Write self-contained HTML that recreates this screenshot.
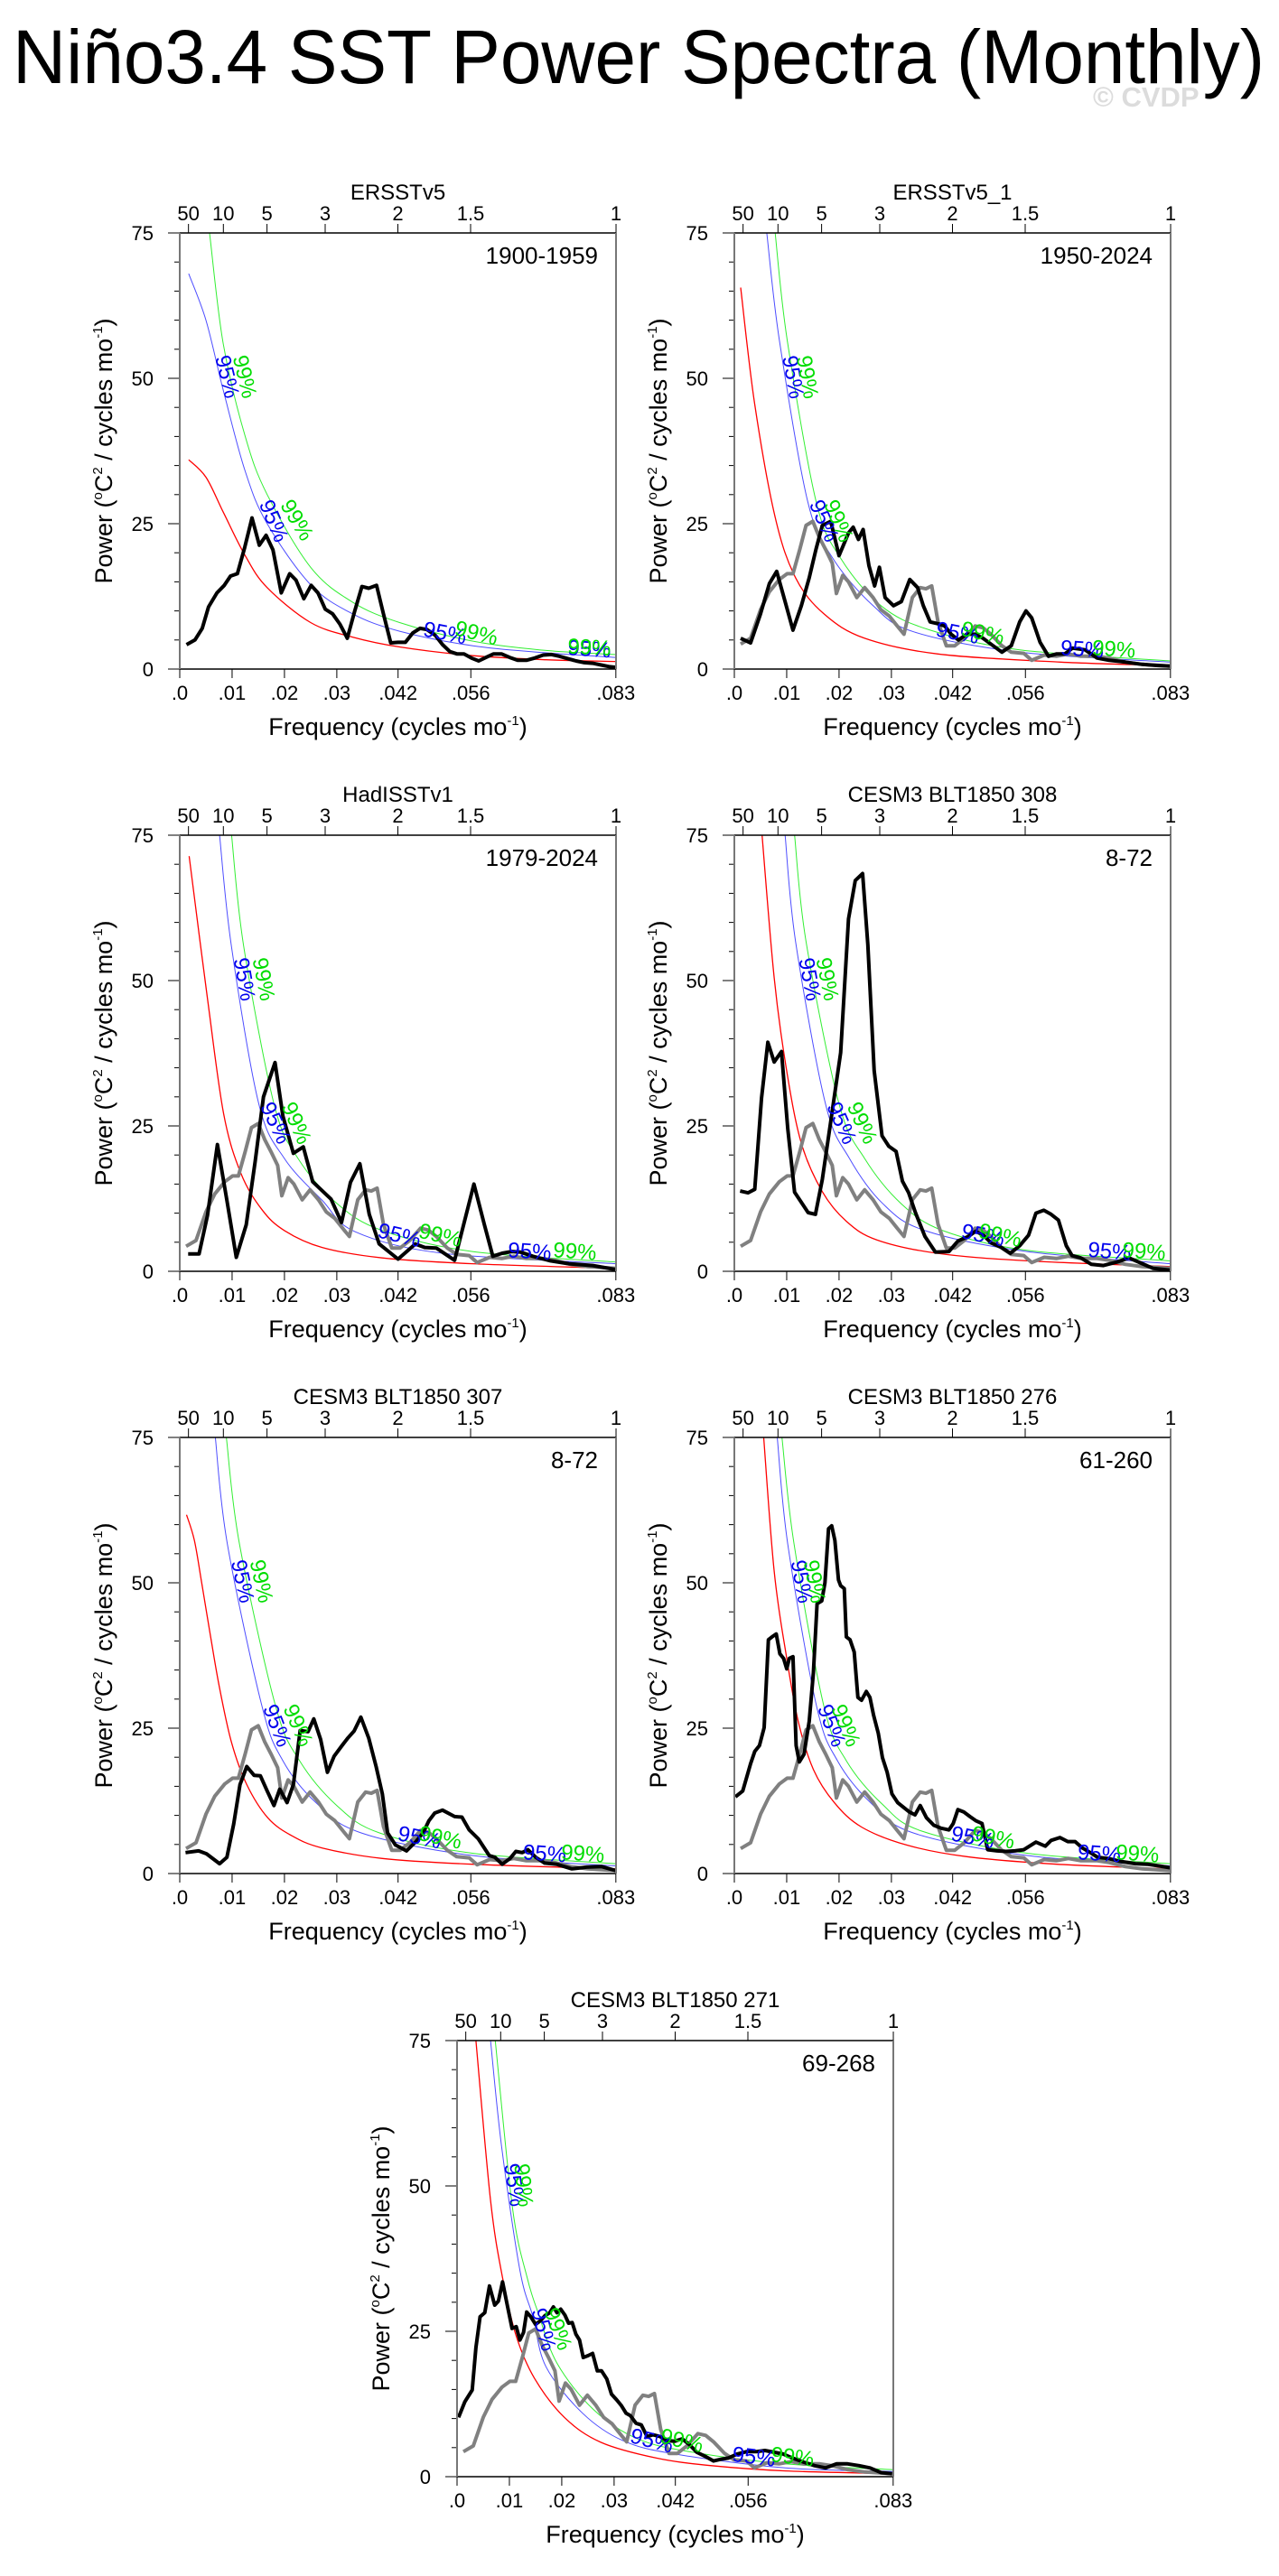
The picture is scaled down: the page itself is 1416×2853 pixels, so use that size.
<!DOCTYPE html>
<html><head><meta charset="utf-8"><style>
html,body{margin:0;padding:0;background:#fff;}
svg{display:block;font-family:"Liberation Sans",Arial,sans-serif;}
</style></head><body>
<svg id="fig" width="1416" height="2853" viewBox="0 0 1416 2853" xmlns="http://www.w3.org/2000/svg">
<text x="14" y="92" font-size="84" textLength="1386" lengthAdjust="spacingAndGlyphs">Niño3.4 SST Power Spectra (Monthly)</text>
<text x="1210" y="118" font-size="31" font-weight="bold" fill="#dcdcdc">© CVDP</text>
</svg>
<script>
// ---- shared axis data ----
const yTicks = [0, 25, 50, 75];
const xTickVals = [0, 0.01, 0.02, 0.03, 0.0417, 0.0556, 0.0833];
const xTickLabels = [".0", ".01", ".02", ".03", ".042", ".056", ".083"];
const periodTickYears = [50, 10, 5, 3, 2, 1.5, 1];
const periodTickLabels = ["50", "10", "5", "3", "2", "1.5", "1"];

// ---- reference (gray) spectrum shared by panels 2-7 ----
const grayF = [.0012,.0031,.005,.0067,.0086,.0101,.0112,.0125,.0137,.015,.0162,.0174,.0187,.0195,.0207,.0218,.0234,.0249,.0265,.028,.0296,.0311,.0324,.034,.0355,.0366,.0377,.0389,.0405,.0421,.0439,.046,.0475,.049,.0511,.0529,.0553,.0568,.0592,.0615,.0638,.0662,.0693,.0716,.0747,.0779,.0833];
const grayV = [4.3,5.3,10.2,13.3,15.4,16.4,16.4,20.6,24.7,25.4,22.7,20.6,18.2,13,16.1,15,12.3,14,12.3,10.2,9.1,7.4,6,12.3,14,13.8,14.3,8.1,4,4,5.3,7.4,7.1,6,4,2.9,2.7,1.5,2.4,2.2,2.6,2.2,2.2,1.9,1.2,0.8,0.5];

// ---- panel 1: ERSSTv5 1900-1959 ----
const p1F = [.0013,.0029,.0043,.0055,.0071,.0085,.0097,.011,.0124,.0138,.0152,.0165,.0178,.0194,.021,.0222,.0237,.0251,.0264,.0278,.0292,.0306,.032,.0334,.0348,.0361,.0376,.0389,.0403,.0417,.0431,.0445,.0459,.0472,.0488,.0502,.0516,.053,.0543,.0557,.0571,.0585,.0599,.0615,.063,.0646,.0662,.0678,.0694,.071,.0725,.0741,.0757,.0773,.0789,.0805,.0821,.0833];
const p1V = [4.2,5,7,10.7,13.1,14.4,16,16.4,20.9,26,21.3,23,20.5,13.1,16.4,15.3,12.1,14.4,13.1,10.3,9.5,7.7,5.3,9.9,14.2,13.9,14.4,9.5,4.5,4.6,4.6,6.2,7,6.8,5.8,4.2,3,2.6,2.6,1.9,1.4,2,2.6,2.6,2,1.5,1.5,1.9,2.4,2.5,2.2,1.8,1.4,1.1,1,0.7,0.4,0.3];
const p1RedF = [.0017,.005,.0083,.0125,.0167,.025,.033,.042,.056,.07,.0833];
const p1RedV = [36,33,27,19.5,14,8,5.5,3.8,2.3,1.6,1.3];
const p1BlueF = [.0017,.005,.0083,.0125,.0167,.025,.033,.042,.056,.07,.0833];
const p1BlueV = [68,60,48,34,25,14.5,9.5,6.5,4,2.8,2];
const p1GreenF = [.0057,.0083,.0125,.0167,.025,.033,.042,.056,.07,.0833];
const p1GreenV = [75,56,40,30,17.5,11.5,8,4.8,3.2,2.5];

// ---- panel 2: ERSSTv5_1 1950-2024 ----
const p2F = [.0012,.0031,.005,.0067,.0081,.0097,.0112,.0128,.0143,.0156,.0168,.0184,.02,.0218,.0227,.0237,.0246,.0257,.0268,.0277,.0288,.0304,.0319,.0335,.035,.0361,.0374,.0389,.0402,.0414,.0428,.0444,.046,.0475,.049,.0511,.0529,.0545,.0557,.0568,.0584,.06,.0615,.0631,.0646,.067,.0693,.0716,.0747,.0779,.081,.0833];
const p2V = [5.3,4.5,9.5,14.7,16.8,11.6,6.7,10.9,15.7,20.6,24.7,25.4,19.5,23.4,24.4,22.3,24,17.8,14.3,17.5,12.3,10.9,11.6,15.4,14,10.9,8.1,7.8,7.4,6,5,6,6,5.3,4.3,2.9,4,8.1,10,8.8,4.6,2.2,2.6,2.6,3.6,3.3,1.9,1.5,1.2,0.8,0.6,0.5];
const p2RedF = [.0012,.0039,.0078,.0117,.0171,.0249,.0389,.0623,.0833];
const p2RedV = [65.6,45.5,26.1,15.7,9.5,5.3,2.6,1.2,0.6];
const p2BlueF = [.0062,.0086,.014,.0187,.0265,.0343,.0545,.0833];
const p2BlueV = [75,56.6,28.9,19.2,10.9,6.4,2.9,1.2];
const p2GreenF = [.0078,.0101,.0156,.0202,.028,.0374,.0545,.0833];
const p2GreenV = [75,56.6,28.9,19.2,10.9,6.7,3.3,1.4];

// ---- panel 3: HadISSTv1 1979-2024 ----
const p3F = [.0016,.0037,.0053,.0072,.009,.0108,.0127,.0144,.016,.0182,.0197,.0217,.0236,.0254,.0289,.0309,.0326,.0344,.0362,.0381,.0417,.045,.0468,.049,.0525,.0562,.0582,.0598,.0616,.0634,.0651,.0674,.0708,.0743,.0789,.0833];
const p3V = [3,3,9.6,21.8,12.2,2.4,8,18.9,30,35.9,26.7,20.3,21.4,15.4,12.4,8.4,15.3,18.5,9.8,4.7,2.1,4.7,4.1,4,1.9,15,8,2.6,3.1,3.4,3.3,2.6,1.8,1.3,1,0.3];
const p3RedF = [.0018,.0053,.0084,.0117,.0157,.02,.0272,.0387,.0559,.0833];
const p3RedV = [71.4,46.9,27,16.8,10.6,7,4.1,2.3,1.3,0.5];
const p3BlueF = [.0076,.0099,.0151,.02,.0272,.0335,.0502,.0833];
const p3BlueV = [75,55.7,28.8,19.4,12.2,6.8,3.1,1.3];
const p3GreenF = [.0099,.0122,.018,.0226,.03,.0387,.0559,.0833];
const p3GreenV = [75,56,28.8,19.4,11.7,7,3.4,1.6];

// ---- panel 4: CESM3 BLT1850 308, 8-72 ----
const p4F = [.0011,.0026,.0039,.0052,.0064,.0076,.009,.0102,.0115,.0141,.0155,.0168,.0183,.0203,.0218,.0231,.0245,.0255,.0267,.0282,.0295,.0309,.0321,.0333,.0346,.0364,.0384,.041,.0427,.0447,.0461,.0476,.049,.051,.0527,.0545,.0562,.0576,.0591,.0605,.0619,.0634,.0645,.0662,.0682,.0705,.0731,.0754,.0777,.08,.0833];
const p4V = [13.8,13.5,14.1,29.8,39.4,36,37.8,24.6,13.6,10.1,9.8,15.8,25.1,37.6,60.6,67.2,68.4,56.2,34.5,23.3,21.5,20.6,15.5,13.5,10.1,6,3.3,3.4,5.2,6,6.9,6.2,4.9,4.1,3.1,4.4,6.2,10,10.5,9.8,8.8,4.4,2.7,2.3,1.2,1,1.6,2.3,1.4,0.5,0.2];
const p4RedF = [.0053,.0076,.0099,.0128,.0168,.0214,.0272,.0387,.0559,.0833];
const p4RedV = [75,50.5,35,22,13.7,8.6,5.4,3.1,1.8,0.8];
const p4BlueF = [.0097,.0117,.0174,.022,.0283,.0364,.0559,.0833];
const p4BlueV = [75,56.7,28.8,19.4,11.7,7,3.4,1.3];
const p4GreenF = [.0115,.0137,.02,.0249,.0318,.0398,.0559,.0833];
const p4GreenV = [75,56.7,28.8,19.4,11.7,7,3.6,1.8];

// ---- panel 5: CESM3 BLT1850 307, 8-72 ----
const p5F = [.0011,.0036,.0051,.0076,.009,.0103,.0115,.0128,.0142,.0154,.0167,.018,.0191,.0205,.0217,.023,.0245,.0256,.0269,.0282,.0295,.0309,.0321,.0333,.0346,.0361,.0375,.0387,.0397,.0412,.0433,.045,.0465,.0476,.0487,.0502,.0525,.0539,.0553,.057,.0591,.0602,.0616,.0631,.0642,.0654,.0665,.068,.0697,.072,.0749,.0777,.0806,.0833];
const p5V = [3.6,3.9,3.4,1.7,2.8,8.5,15.3,18.4,16.9,16.8,14.2,11.7,14.5,12.2,15.3,24.6,24.4,26.6,23.1,17.4,20.2,21.9,23.3,24.5,26.9,23.3,18.4,13.7,7,4.9,3.9,5.4,7,9.1,10.4,10.9,9.8,9.7,7.5,6,3.1,2.8,1.6,2.6,3.8,3.6,4.1,2.8,1.8,1.6,0.8,1.1,1.2,0.5];
const p5RedF = [.0013,.0028,.0042,.0059,.0076,.0099,.0128,.0168,.0214,.0272,.0387,.0559,.0833];
const p5RedV = [61.7,57.3,50,40.7,31.9,22.5,15.3,9.6,6.5,4.4,2.6,1.6,0.8];
const p5BlueF = [.0068,.0091,.0157,.0197,.026,.0346,.0559,.0833];
const p5BlueV = [75,56.7,28.8,19.4,12.2,7,3.1,1.3];
const p5GreenF = [.0089,.0114,.0183,.0229,.03,.0381,.0559,.0833];
const p5GreenV = [75,56.7,28.8,19.4,11.7,7,3.5,1.7];

// ---- panel 6: CESM3 BLT1850 276, 61-260 ----
const p6F = [.0002,.0016,.0031,.0039,.0048,.0057,.0065,.0072,.008,.0087,.0094,.01,.0105,.0112,.0118,.0124,.0133,.0143,.0151,.0158,.0167,.0173,.018,.0186,.0192,.0199,.0203,.021,.0214,.0221,.0229,.0236,.0243,.0252,.0259,.0266,.0275,.0283,.0292,.0301,.0312,.0323,.0334,.0345,.0355,.0367,.0381,.0395,.041,.0418,.0427,.0438,.045,.0461,.0473,.0484,.0502,.0519,.0536,.0553,.0576,.0594,.0605,.0622,.0637,.0651,.0665,.068,.0694,.0714,.0737,.0766,.0789,.0812,.0833];
const p6V = [13.2,14.2,18.9,21,22,25.1,40.2,40.7,41.2,37.8,37,35.2,37,37.3,22,19.2,20.5,26.2,34.5,46.4,46.9,50,59.3,59.8,57.3,50.5,49.5,49,40.7,40.2,38.1,30.3,29.8,31.3,30.3,27.2,24.1,19.9,17.4,13.7,12.2,11.4,10.6,10.1,11.7,9.6,8.3,7.8,7.5,8.6,11,10.6,9.8,9.1,8.6,4.1,3.9,3.8,3.9,4.1,5.4,4.7,5.7,6.2,5.5,5.5,4.4,3.6,2.8,2.6,2.1,1.7,1.6,1.3,1];
const p6RedF = [.0056,.0076,.0099,.0122,.0151,.0191,.0243,.0329,.0444,.0616,.0833];
const p6RedV = [75,52,37.6,26.2,17.9,12.2,8,4.9,2.9,1.6,0.8];
const p6BlueF = [.0082,.0102,.0157,.0197,.026,.0341,.0559,.0833];
const p6BlueV = [75,56.7,28.8,19.4,12.2,7,3.1,1.3];
const p6GreenF = [.0091,.0114,.0171,.0214,.0283,.0358,.0559,.0833];
const p6GreenV = [75,56.7,28.8,19.4,11.9,7.3,3.5,1.7];

// ---- panel 7: CESM3 BLT1850 271, 69-268 ----
const p7F = [.0003,.0015,.0029,.0036,.0044,.0053,.0062,.0072,.0079,.0087,.0096,.0105,.0113,.012,.0127,.0133,.0141,.015,.0159,.0168,.0177,.0184,.0191,.0198,.0206,.0213,.022,.0227,.0234,.0241,.025,.0259,.0268,.0276,.0286,.0295,.0305,.0314,.0323,.0331,.0342,.0352,.0363,.0374,.0388,.0402,.0416,.043,.0444,.0458,.0476,.049,.0504,.0518,.0535,.0553,.0571,.0588,.0606,.0623,.0641,.0662,.0683,.0704,.0725,.0746,.0768,.0789,.081,.0831];
const p7V = [10.2,12.9,14.9,22.2,27.5,28.2,32.8,29.5,30.2,33.5,29.5,25.5,25.8,23.5,24.8,28.3,27.5,26.2,26.8,27.7,28.2,29.2,28.2,28.8,27.8,26.4,26.5,24.5,23.5,20.5,20.8,21.2,18.2,18.2,16.8,14.2,13.2,12.2,10.9,10.5,9.2,8.9,6.9,7.2,6.9,6.2,6.1,6.5,5.5,4.2,3.4,2.7,3,3.2,3.9,4.3,4.3,4.5,4.2,3.9,3.2,2.5,1.9,1.5,2.2,2.2,1.9,1.5,0.7,0.5];
const p7RedF = [.0036,.0064,.0087,.0113,.0148,.0205,.0275,.0381,.0486,.0627,.0833];
const p7RedV = [75,47.5,34.2,24.2,16.9,10.2,5.9,3.2,1.9,1,0.5];
const p7BlueF = [.0064,.0085,.012,.0145,.017,.024,.0317,.0416,.0627,.0833];
const p7BlueV = [75,56.8,35.5,27.5,18.9,10.9,6.2,3.9,1.5,0.9];
const p7GreenF = [.0073,.0106,.0134,.0155,.0191,.0261,.0345,.0451,.0627,.0833];
const p7GreenV = [75,46.2,34.2,28.2,19.5,11.5,6.5,4.2,2.2,1.2];

const panelTitles = ["ERSSTv5","ERSSTv5_1","HadISSTv1","CESM3 BLT1850 308","CESM3 BLT1850 307","CESM3 BLT1850 276","CESM3 BLT1850 271"];
const panelPeriods = ["1900-1959","1950-2024","1979-2024","8-72","8-72","61-260","69-268"];
const panelFreqs = [p1F,p2F,p3F,p4F,p5F,p6F,p7F];
const panelVals = [p1V,p2V,p3V,p4V,p5V,p6V,p7V];
const redF = [p1RedF,p2RedF,p3RedF,p4RedF,p5RedF,p6RedF,p7RedF];
const redV = [p1RedV,p2RedV,p3RedV,p4RedV,p5RedV,p6RedV,p7RedV];
const blueF = [p1BlueF,p2BlueF,p3BlueF,p4BlueF,p5BlueF,p6BlueF,p7BlueF];
const blueV = [p1BlueV,p2BlueV,p3BlueV,p4BlueV,p5BlueV,p6BlueV,p7BlueV];
const greenF = [p1GreenF,p2GreenF,p3GreenF,p4GreenF,p5GreenF,p6GreenF,p7GreenF];
const greenV = [p1GreenV,p2GreenV,p3GreenV,p4GreenV,p5GreenV,p6GreenV,p7GreenV];
const showGray = [false,true,true,true,true,true,true];
const labelLevels = [50, 25, 5, 2.2];

const origins = [[199,258],[813,258],[199,925],[813,925],[199,1592],[813,1592],[506,2260]];
const SZ = 483, FMAX = 0.08333, YMAX = 75;
const NS = "http://www.w3.org/2000/svg";
const fig = document.getElementById('fig');

function mk(tag, attrs, parent, txt){
  const e = document.createElementNS(NS, tag);
  for (const k in attrs) e.setAttribute(k, attrs[k]);
  if (txt !== undefined) e.textContent = txt;
  parent.appendChild(e);
  return e;
}
function smoothPath(pts){
  let d = "M" + pts[0][0].toFixed(1) + "," + pts[0][1].toFixed(1);
  for (let i=0;i<pts.length-1;i++){
    const p0 = pts[i-1]||pts[i], p1 = pts[i], p2 = pts[i+1], p3 = pts[i+2]||p2;
    const c1x = p1[0]+(p2[0]-p0[0])/6, c1y = p1[1]+(p2[1]-p0[1])/6;
    const c2x = p2[0]-(p3[0]-p1[0])/6, c2y = p2[1]-(p3[1]-p1[1])/6;
    d += " C"+c1x.toFixed(1)+","+c1y.toFixed(1)+" "+c2x.toFixed(1)+","+c2y.toFixed(1)+" "+p2[0].toFixed(1)+","+p2[1].toFixed(1);
  }
  return d;
}

origins.forEach(function(o, idx){
  const x0 = o[0], y0 = o[1];
  const xs = f => x0 + f / FMAX * SZ;
  const ys = v => y0 + SZ - v / YMAX * SZ;
  const g = mk('g', {}, fig);
  
  

  const clipId = 'clip' + idx;
  const cp = mk('clipPath', {id: clipId}, g);
  mk('rect', {x: x0, y: y0, width: SZ, height: SZ}, cp);

  const t = mk('text', {x: x0+SZ/2, y: y0-37, 'font-size': 24, 'text-anchor': 'middle'}, g, panelTitles[idx]);
  
  
  const pr = mk('text', {x: x0+SZ-20, y: y0+34, 'font-size': 26, 'text-anchor': 'end'}, g, panelPeriods[idx]);
  
  

  for (let v=0; v<=75; v+=5){
    const major = yTicks.indexOf(v) >= 0;
    const tk = mk('line', {x1: x0-(major?13:6), x2: x0, y1: ys(v), y2: ys(v), stroke: '#000', 'stroke-width': 1}, g);
    
    
  }
  yTicks.forEach(function(v){
    const lb = mk('text', {x: x0-29, y: ys(v)+8, 'font-size': 22, 'text-anchor': 'end'}, g, String(v));
    
    
  });
  xTickVals.forEach(function(f, i){
    const tk = mk('line', {x1: xs(f), x2: xs(f), y1: y0+SZ, y2: y0+SZ+10, stroke: '#000', 'stroke-width': 1}, g);
    
    
    const lb = mk('text', {x: xs(f), y: y0+SZ+34, 'font-size': 22, 'text-anchor': 'middle'}, g, xTickLabels[i]);
    
    
  });
  periodTickYears.forEach(function(p, i){
    const f = 1/(12*p);
    const tk = mk('line', {x1: xs(f), x2: xs(f), y1: y0, y2: y0-10, stroke: '#000', 'stroke-width': 1}, g);
    
    
    const lb = mk('text', {x: xs(f), y: y0-14, 'font-size': 22, 'text-anchor': 'middle'}, g, periodTickLabels[i]);
    
    
  });

  const xt = mk('text', {x: x0+SZ/2, y: y0+SZ+73, 'font-size': 27, 'text-anchor': 'middle'}, g);
  
  
  xt.innerHTML = 'Frequency (cycles mo<tspan dy="-11" font-size="15">-1</tspan><tspan dy="11">)</tspan>';
  const ytx = x0-84, yty = y0+SZ/2;
  const yt = mk('text', {x: ytx, y: yty, 'font-size': 27, 'text-anchor': 'middle', transform: 'rotate(-90 '+ytx+' '+yty+')', dy: 9}, g);
  
  
  yt.innerHTML = 'Power (<tspan dy="-11" font-size="15">o</tspan><tspan dy="11">C</tspan><tspan dy="-11" font-size="15">2</tspan><tspan dy="11"> / cycles mo</tspan><tspan dy="-11" font-size="15">-1</tspan><tspan dy="11">)</tspan>';

  const cg = mk('g', {'clip-path': 'url(#'+clipId+')', fill: 'none'}, g);
  function curve(F, V, color, w, name, smooth){
    const pts = F.map((f,i)=>[xs(f), ys(V[i])]);
    const d = smooth ? smoothPath(pts) : "M" + pts.map(p=>p[0].toFixed(1)+","+p[1].toFixed(1)).join(" L");
    const p = mk('path', {d: d, stroke: color, 'stroke-width': w, 'stroke-linejoin': 'round'}, cg);
    
    
    return pts;
  }
  curve(redF[idx], redV[idx], '#ff0000', 1.3, 'red-noise-curve', true);
  curve(blueF[idx], blueV[idx], '#4d4dff', 1, 'confidence-95-curve', true);
  curve(greenF[idx], greenV[idx], '#33ee33', 1, 'confidence-99-curve', true);
  if (showGray[idx]) curve(grayF, grayV, '#808080', 4, 'reference-spectrum-line', false);
  curve(panelFreqs[idx], panelVals[idx], '#000', 4, 'spectrum-line', false);

  function labels(F, V, color, txt, name, dx){
    labelLevels.forEach(function(L){
      let i = 0;
      while (i < V.length-1 && !(V[i] >= L && V[i+1] <= L)) i++;
      if (i >= V.length-1) { i = V.length-2; }
      const t = (V[i]-L)/((V[i]-V[i+1])||1);
      const f = F[i] + Math.max(0,Math.min(1,t))*(F[i+1]-F[i]);
      const x = Math.min(xs(f)+dx, x0+SZ-30), y = ys(Math.max(L, V[V.length-1]));
      const ang = Math.atan2(ys(V[i+1])-ys(V[i]), xs(F[i+1])-xs(F[i]))*180/Math.PI;
      const lb = mk('text', {x: x, y: y, 'font-size': 24, fill: color, 'text-anchor': 'middle', transform: 'rotate('+ang.toFixed(1)+' '+x.toFixed(1)+' '+y.toFixed(1)+')'}, g, txt);
      
      
    });
  }
  labels(blueF[idx], blueV[idx], '#0000ee', '95%', 'label-95', 0);
  labels(greenF[idx], greenV[idx], '#00dd00', '99%', 'label-99', 7);

  const fr = mk('g', {}, g);
  
  
  mk('line', {x1: x0, x2: x0+SZ, y1: y0, y2: y0, stroke: '#000', 'stroke-width': 1.5}, fr);
  mk('line', {x1: x0, x2: x0+SZ, y1: y0+SZ, y2: y0+SZ, stroke: '#000', 'stroke-width': 1.5}, fr);
  mk('line', {x1: x0, x2: x0, y1: y0, y2: y0+SZ, stroke: '#777', 'stroke-width': 2}, fr);
  mk('line', {x1: x0+SZ, x2: x0+SZ, y1: y0, y2: y0+SZ, stroke: '#777', 'stroke-width': 2}, fr);
});
</script>
</body></html>
